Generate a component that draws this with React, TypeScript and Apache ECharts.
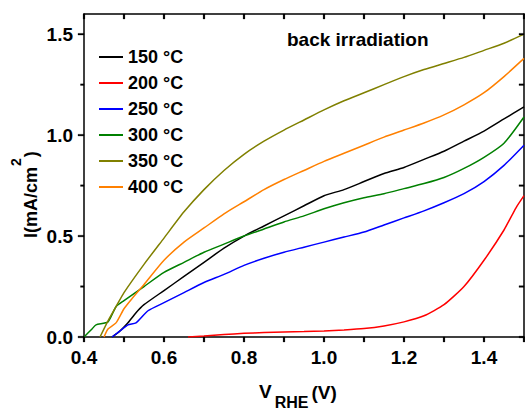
import React, { useEffect, useRef } from 'react';
import * as echarts from 'echarts';

// ---- data ----
const v150 = [0.47, 0.49, 0.51, 0.53, 0.55, 0.60, 0.65, 0.70, 0.75, 0.80, 0.85, 0.90, 0.95, 1.00, 1.05, 1.10, 1.15, 1.20, 1.25, 1.30, 1.35, 1.40, 1.45, 1.50];
const i150 = [0.0, 0.03, 0.07, 0.12, 0.16, 0.23, 0.30, 0.37, 0.44, 0.50, 0.55, 0.60, 0.65, 0.70, 0.73, 0.77, 0.81, 0.84, 0.88, 0.92, 0.97, 1.02, 1.08, 1.14];

const v200 = [0.66, 0.70, 0.75, 0.80, 0.85, 0.90, 0.95, 1.00, 1.05, 1.10, 1.15, 1.20, 1.25, 1.30, 1.35, 1.40, 1.45, 1.48, 1.50];
const i200 = [0.0, 0.005, 0.012, 0.018, 0.022, 0.025, 0.027, 0.03, 0.035, 0.042, 0.055, 0.075, 0.105, 0.16, 0.25, 0.38, 0.53, 0.64, 0.70];

const v250 = [0.47, 0.49, 0.51, 0.53, 0.56, 0.60, 0.65, 0.70, 0.75, 0.80, 0.85, 0.90, 0.95, 1.00, 1.05, 1.10, 1.15, 1.20, 1.25, 1.30, 1.35, 1.40, 1.45, 1.50];
const i250 = [0.0, 0.03, 0.06, 0.07, 0.13, 0.17, 0.22, 0.27, 0.31, 0.355, 0.39, 0.42, 0.445, 0.47, 0.495, 0.52, 0.555, 0.59, 0.625, 0.665, 0.71, 0.77, 0.85, 0.95];

const v300 = [0.40, 0.42, 0.43, 0.46, 0.48, 0.50, 0.55, 0.60, 0.65, 0.70, 0.75, 0.80, 0.85, 0.90, 0.95, 1.00, 1.05, 1.10, 1.15, 1.20, 1.25, 1.30, 1.35, 1.40, 1.45, 1.50];
const i300 = [0.0, 0.04, 0.06, 0.075, 0.15, 0.18, 0.25, 0.32, 0.37, 0.42, 0.46, 0.50, 0.535, 0.57, 0.60, 0.635, 0.665, 0.69, 0.71, 0.735, 0.76, 0.79, 0.835, 0.89, 0.96, 1.09];

const v350 = [0.44, 0.46, 0.48, 0.50, 0.55, 0.60, 0.65, 0.70, 0.75, 0.80, 0.85, 0.90, 0.95, 1.00, 1.05, 1.10, 1.15, 1.20, 1.25, 1.30, 1.35, 1.40, 1.45, 1.50];
const i350 = [0.0, 0.08, 0.15, 0.22, 0.36, 0.49, 0.62, 0.73, 0.825, 0.905, 0.97, 1.025, 1.075, 1.125, 1.17, 1.21, 1.25, 1.29, 1.325, 1.355, 1.385, 1.42, 1.455, 1.50];

const v400 = [0.45, 0.46, 0.48, 0.50, 0.52, 0.55, 0.60, 0.65, 0.70, 0.75, 0.80, 0.85, 0.90, 0.95, 1.00, 1.05, 1.10, 1.15, 1.20, 1.25, 1.30, 1.35, 1.40, 1.45, 1.50];
const i400 = [0.0, 0.04, 0.07, 0.14, 0.19, 0.26, 0.38, 0.47, 0.54, 0.61, 0.67, 0.73, 0.78, 0.825, 0.87, 0.91, 0.95, 0.99, 1.025, 1.06, 1.10, 1.15, 1.21, 1.29, 1.38];

const seriesNames = ['150 °C', '200 °C', '250 °C', '300 °C', '350 °C', '400 °C'];
const seriesColors = ['#000000', '#ff0000', '#0000ff', '#008000', '#808000', '#ff8000'];
const seriesV = [v150, v200, v250, v300, v350, v400];
const seriesI = [i150, i200, i250, i300, i350, i400];

// axis range, labels and tick marks
const xMin = 0.4;
const xMax = 1.5;
const yMin = 0;
const yMax = 1.6;
const xLabelValues = [0.4, 0.6, 0.8, 1.0, 1.2, 1.4];
const yLabelValues = [0, 0.5, 1.0, 1.5];
const xTickValues = [0.4, 0.5, 0.6, 0.7, 0.8, 0.9, 1.0, 1.1, 1.2, 1.3, 1.4, 1.5];
const yMajorTickValues = [0, 0.5, 1.0, 1.5];
const yMinorTickValues = [0.25, 0.75, 1.25];
const yRightTickValues = [0, 0.25, 0.5, 0.75, 1.0, 1.25, 1.5];

const annotation = 'back irradiation';
const yTitleMain = 'I(mA/cm';
const yTitleSup = '2';
const yTitleEnd = ')';
const xTitleMain = 'V';
const xTitleSub = 'RHE';
const xTitleEnd = '(V)';

const FF = '"Liberation Sans", Arial, Helvetica, sans-serif';

const GRID = { left: 84, right: 1, top: 14, bottom: 73 };
const W = 525;
const H = 410;

function txt(text: string, font: string) {
  return {
    text,
    font,
    fill: '#000',
    align: 'left',
    verticalAlign: 'bottom',
    textAlign: 'left',
    textVerticalAlign: 'bottom',
  };
}

export default function App() {
  const ref = useRef<HTMLDivElement>(null);

  useEffect(() => {
    if (!ref.current) return;
    const chart = echarts.init(ref.current, undefined, { renderer: 'svg', width: W, height: H });

    const axisLineStyle = { color: '#000', width: 1.5 };
    const labelStyle = {
      fontSize: 19,
      fontWeight: 'bold' as const,
      fontFamily: FF,
      color: '#000',
    };
    const fmt = (v: number) => v.toFixed(1);

    const xStart = 259;
    const wV = 0.667 * 19;
    const wSub = 2.111 * 16;

    chart.setOption({
      animation: false,
      backgroundColor: '#ffffff',
      grid: { ...GRID, containLabel: false, outerBoundsMode: 'none' },
      legend: {
        data: seriesNames,
        orient: 'vertical',
        left: 99,
        top: 47,
        padding: 0,
        icon: 'rect',
        itemWidth: 24,
        itemHeight: 2,
        itemGap: 6,
        textStyle: { fontSize: 18, fontWeight: 'bold', fontFamily: FF, color: '#000', lineHeight: 20 },
      },
      xAxis: [
        {
          type: 'value',
          position: 'bottom',
          min: xMin,
          max: xMax,
          interval: 0.1,
          axisLine: { show: true, onZero: false, lineStyle: axisLineStyle },
          axisTick: { show: true, inside: false, length: 5, lineStyle: { color: '#000', width: 1.5 } },
          axisLabel: { ...labelStyle, customValues: xLabelValues, formatter: fmt, margin: 11 },
          splitLine: { show: false },
        },
        {
          type: 'value',
          position: 'top',
          min: xMin,
          max: xMax,
          interval: 0.1,
          axisLine: { show: true, onZero: false, lineStyle: axisLineStyle },
          axisTick: { show: true, inside: true, length: 5, lineStyle: { color: '#000', width: 1.5 } },
          axisLabel: { show: false },
          splitLine: { show: false },
        },
      ],
      yAxis: [
        {
          type: 'value',
          position: 'left',
          min: yMin,
          max: yMax,
          interval: 0.5,
          axisLine: { show: true, onZero: false, lineStyle: axisLineStyle },
          axisTick: { show: false },
          axisLabel: { ...labelStyle, customValues: yLabelValues, formatter: fmt, margin: 11 },
          splitLine: { show: false },
        },
        {
          type: 'value',
          position: 'right',
          min: yMin,
          max: yMax,
          interval: 0.25,
          axisLine: { show: true, onZero: false, lineStyle: axisLineStyle },
          axisTick: { show: false },
          axisLabel: { show: false },
          splitLine: { show: false },
        },
      ],
      series: seriesNames.map((name, k) => ({
        name,
        type: 'line',
        xAxisIndex: 0,
        yAxisIndex: 0,
        symbol: 'none',
        showSymbol: false,
        smooth: 0.2,
        data: seriesV[k].map((v, j) => [v, seriesI[k][j]]),
        lineStyle: { color: seriesColors[k], width: 1.5 },
        itemStyle: { color: seriesColors[k] },
      })),
    });

    // tick marks as thin filled rectangles, placed through the axes' own scales
    const left = GRID.left;
    const right = W - GRID.right;
    const top = GRID.top;
    const bottom = H - GRID.bottom;
    const toX = (v: number) => {
      const p: any = chart.convertToPixel({ xAxisIndex: 0 }, v);
      const n = Array.isArray(p) ? Number(p[0]) : Number(p);
      return Number.isFinite(n) ? n : left + ((v - xMin) / (xMax - xMin)) * (right - left);
    };
    const toY = (v: number) => {
      const p: any = chart.convertToPixel({ yAxisIndex: 0 }, v);
      const n = Array.isArray(p) ? Number(p[1]) : Number(p);
      return Number.isFinite(n) ? n : bottom - ((v - yMin) / (yMax - yMin)) * (bottom - top);
    };
    const tw = 1.6;
    const rect = (x: number, y: number, width: number, height: number) => ({
      type: 'rect',
      shape: { x, y, width, height },
      style: { fill: '#000000', stroke: '#000000', lineWidth: 0.3 },
      z: 50,
      silent: true,
    });
    const ticks: any[] = [];
    xTickValues.forEach((v) => {
      const px = toX(v);
      ticks.push(rect(px - tw / 2, bottom, tw, 5));
      ticks.push(rect(px - tw / 2, top, tw, 5));
    });
    yMajorTickValues.forEach((v) => {
      const py = toY(v);
      ticks.push(rect(left - 6, py - tw / 2, 6, tw));
    });
    yMinorTickValues.forEach((v) => {
      const py = toY(v);
      ticks.push(rect(left - 3.5, py - tw / 2, 3.5, tw));
    });
    yRightTickValues.forEach((v) => {
      const py = toY(v);
      ticks.push(rect(right - 5, py - tw / 2, 5, tw));
    });

    const mainFont = `bold 18px ${FF}`;
    const supFont = `bold 14px ${FF}`;

    chart.setOption({
      graphic: [
        ...ticks,
        {
          type: 'text',
          x: 287,
          y: 49,
          style: txt(annotation, `bold 19px ${FF}`),
        },
        {
          type: 'text',
          x: 40,
          y: 238,
          rotation: Math.PI / 2,
          style: {
            text: `{m|${yTitleMain}}{s|${yTitleSup}}{m|${yTitleEnd}}`,
            fill: '#000',
            align: 'left',
            verticalAlign: 'bottom',
            textAlign: 'left',
            textVerticalAlign: 'bottom',
            rich: {
              m: { font: mainFont, fill: '#000', verticalAlign: 'bottom' },
              s: { font: supFont, fill: '#000', verticalAlign: 'bottom', padding: [0, 1, 17, 1] },
            },
          },
        },
        {
          type: 'text',
          x: xStart,
          y: 401,
          style: txt(xTitleMain, `bold 19px ${FF}`),
        },
        {
          type: 'text',
          x: xStart + wV + 3,
          y: 410,
          style: txt(xTitleSub, `bold 16px ${FF}`),
        },
        {
          type: 'text',
          x: xStart + wV + 3 + wSub + 3,
          y: 402,
          style: txt(xTitleEnd, `bold 19px ${FF}`),
        },
      ],
    });

    return () => {
      chart.dispose();
    };
  }, []);

  return (
    <div
      ref={ref}
      style={{ position: 'fixed', left: 0, top: 0, width: W, height: H, background: '#fff' }}
    />
  );
}
